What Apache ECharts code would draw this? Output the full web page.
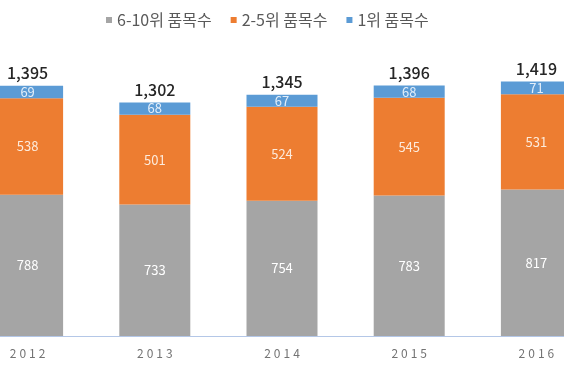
<!DOCTYPE html>
<html><head><meta charset="utf-8">
<script src="https://cdn.jsdelivr.net/npm/echarts@6/dist/echarts.min.js"></script>
<style>html,body{margin:0;padding:0;background:#fff;overflow:hidden;width:564px;height:369px}#c{width:636px;height:369px;margin-left:-36px}</style>
</head><body><div id="c"></div>
<script>
const categories = ['2012','2013','2014','2015','2016'];
const rank6to10 = [788, 733, 754, 783, 817];
const rank2to5 = [538, 501, 524, 545, 531];
const rank1 = [69, 68, 67, 68, 71];
const totals = [1395, 1302, 1345, 1396, 1419];
const seriesNames = ['6-10위 품목수', '2-5위 품목수', '1위 품목수'];

const FONT = '"Noto Sans CJK KR", "Noto Sans", sans-serif';
const chart = echarts.init(document.getElementById('c'));
const segLabel = (color) => ({show: true, position: 'inside', color: color, fontSize: 13, fontFamily: FONT});
chart.setOption({
  animation: false,
  legend: {
    data: seriesNames, top: 7, left: 137, itemWidth: 6, itemHeight: 6, itemGap: 19,
    icon: 'rect',
    textStyle: {color: '#595959', fontSize: 16, fontFamily: FONT}
  },
  grid: {left: 0, right: 0, top: 49, bottom: 33},
  xAxis: {
    type: 'category', data: categories,
    axisLine: {lineStyle: {color: '#b4c7e7', width: 1}},
    axisTick: {show: false},
    axisLabel: {
      margin: 11, interval: 0,
      formatter: v => v.split('').map(ch => '{d|' + ch + '}').join(''),
      rich: {d: {color: '#737373', fontSize: 12, fontFamily: FONT, padding: [0, 1.5]}}
    }
  },
  yAxis: {type: 'value', min: 0, max: 1600, show: false, splitLine: {show: false}},
  series: [
    {name: seriesNames[0], type: 'bar', stack: 's', barWidth: 71, data: rank6to10,
     itemStyle: {color: '#a5a5a5'}, label: segLabel('#ffffff')},
    {name: seriesNames[1], type: 'bar', stack: 's', barWidth: 71, data: rank2to5,
     itemStyle: {color: '#ed7d31'}, label: segLabel('#fdebdc')},
    {name: seriesNames[2], type: 'bar', stack: 's', barWidth: 71, data: rank1,
     itemStyle: {color: '#5b9bd5'}, label: segLabel('#e3eef9')},
    {name: '합계', type: 'line', data: totals, symbol: 'circle', symbolSize: 1, showSymbol: true,
     lineStyle: {color: 'transparent', width: 0}, itemStyle: {color: 'transparent', borderWidth: 0},
     label: {show: true, position: 'top', distance: 4, color: '#262626', fontSize: 16, fontWeight: 500, fontFamily: FONT,
       formatter: p => p.value.toLocaleString('en-US')}}
  ]
});
</script></body></html>
